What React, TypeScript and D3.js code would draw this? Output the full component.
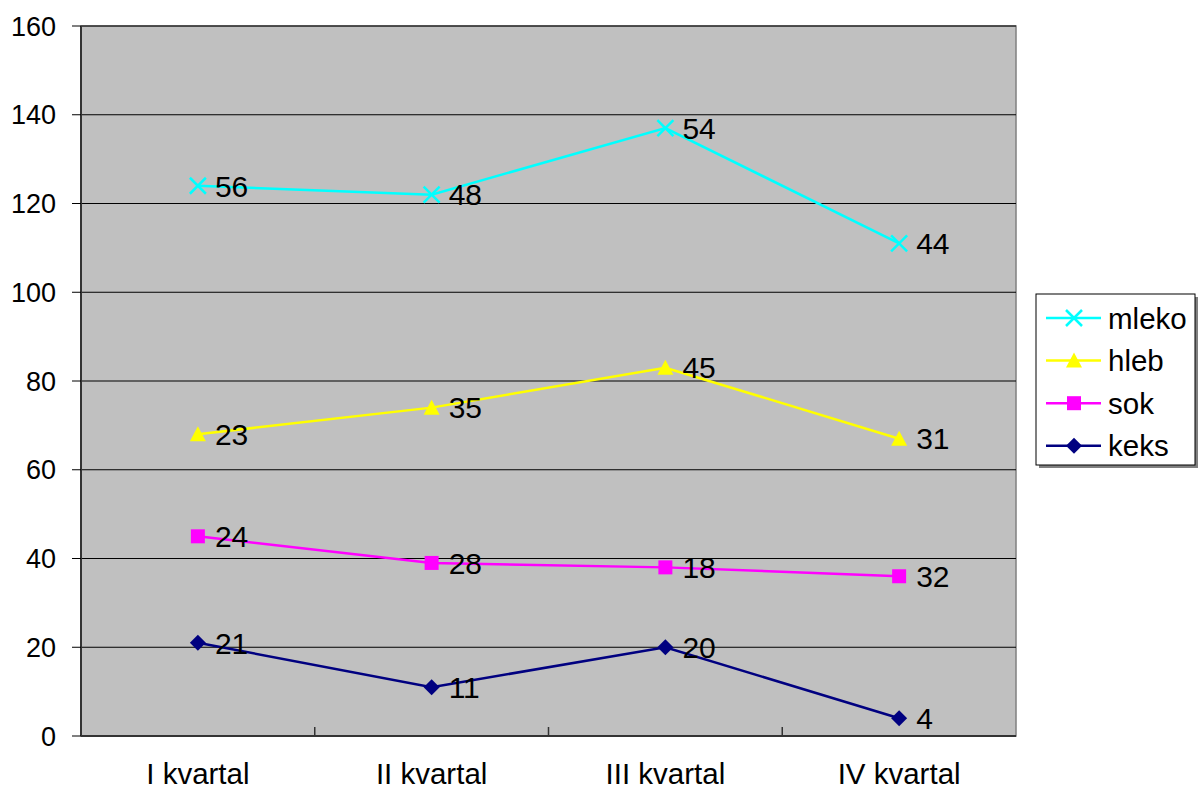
import React from 'react';
import * as d3 from 'd3';

const categories = ['I kvartal', 'II kvartal', 'III kvartal', 'IV kvartal'];
const seriesNames = ['keks', 'sok', 'hleb', 'mleko'];
const keks = [21, 11, 20, 4];
const sok = [24, 28, 18, 32];
const hleb = [23, 35, 45, 31];
const mleko = [56, 48, 54, 44];
const yTicks = [0, 20, 40, 60, 80, 100, 120, 140, 160];
const colors: Record<string, string> = { keks: '#000080', sok: '#ff00ff', hleb: '#ffff00', mleko: '#00ffff' };

const W = 1198;
const H = 792;
const plot = { left: 81, right: 1016, top: 26, bottom: 736 };
const FONT = 'Liberation Sans, Arial, sans-serif';

function Marker({ name, x, y }: { name: string; x: number; y: number }) {
    const c = colors[name];
    if (name === 'mleko') {
        return (
            <g stroke={c} strokeWidth={2.5}>
                <line x1={x - 8} y1={y - 8} x2={x + 8} y2={y + 8} />
                <line x1={x - 8} y1={y + 8} x2={x + 8} y2={y - 8} />
            </g>
        );
    }
    if (name === 'hleb') {
        return <path d={`M${x},${y - 8}L${x + 8},${y + 7}L${x - 8},${y + 7}Z`} fill={c} />;
    }
    if (name === 'sok') {
        return <rect x={x - 7} y={y - 7} width={14} height={14} fill={c} />;
    }
    return <path d={`M${x},${y - 8}L${x + 8},${y}L${x},${y + 8}L${x - 8},${y}Z`} fill={c} />;
}

export default function App() {
    const raw: Record<string, number[]> = { keks, sok, hleb, mleko };
    const cumulative: Record<string, number[]> = {};
    const running = [0, 0, 0, 0];
    seriesNames.forEach(n => {
        cumulative[n] = raw[n].map((v, i) => (running[i] += v));
    });

    const x = d3.scaleBand<string>().domain(categories).range([plot.left, plot.right]);
    const y = d3.scaleLinear().domain([0, 160]).range([plot.bottom, plot.top]);
    const cx = (c: string) => (x(c) as number) + x.bandwidth() / 2;
    const line = d3.line<number>().x((_, i) => cx(categories[i])).y(d => y(d));

    const legendOrder = ['mleko', 'hleb', 'sok', 'keks'];

    return (
        <svg width={W} height={H} style={{ position: 'absolute', left: 0, top: 0 }} fontFamily={FONT}>
            <rect width={W} height={H} fill="#fff" />
            <rect x={plot.left} y={plot.top} width={plot.right - plot.left} height={plot.bottom - plot.top}
                fill="#c0c0c0" stroke="#808080" strokeWidth={1.5} />
            {yTicks.filter(t => t > 0).map(t => (
                <line key={t} x1={plot.left} x2={plot.right} y1={y(t)} y2={y(t)} stroke="#000" strokeWidth={1} />
            ))}
            {/* axes */}
            <line x1={plot.left} x2={plot.left} y1={plot.top} y2={plot.bottom} stroke="#333" strokeWidth={2} />
            <line x1={plot.left} x2={plot.right} y1={plot.bottom} y2={plot.bottom} stroke="#333" strokeWidth={2} />
            {yTicks.map(t => (
                <g key={t}>
                    <line x1={plot.left - 9} x2={plot.left} y1={y(t)} y2={y(t)} stroke="#000" strokeWidth={1} />
                    <text x={56} y={y(t)} dy="0.36em" textAnchor="end" fontSize={27}>{t}</text>
                </g>
            ))}
            {categories.slice(1).map(c => (
                <line key={c} x1={x(c)} x2={x(c)} y1={plot.bottom - 9} y2={plot.bottom} stroke="#333" strokeWidth={1.5} />
            ))}
            {categories.map(c => (
                <text key={c} x={cx(c)} y={784} textAnchor="middle" fontSize={29.5}>{c}</text>
            ))}
            {seriesNames.map(n => (
                <g key={n}>
                    <path d={line(cumulative[n]) as string} fill="none" stroke={colors[n]} strokeWidth={2.5} />
                    {cumulative[n].map((v, i) => (
                        <Marker key={i} name={n} x={cx(categories[i])} y={y(v)} />
                    ))}
                    {cumulative[n].map((v, i) => (
                        <text key={'t' + i} x={cx(categories[i]) + 17} y={y(v)} dy="0.36em" fontSize={30}>{raw[n][i]}</text>
                    ))}
                </g>
            ))}
            {/* legend */}
            <rect x={1039} y={297} width={159} height={171} fill="#808080" />
            <rect x={1036} y={294} width={159} height={171} fill="#fff" stroke="#000" strokeWidth={1} />
            {legendOrder.map((n, i) => {
                const ly = 318 + i * 42.6;
                return (
                    <g key={n}>
                        <line x1={1046} x2={1101} y1={ly} y2={ly} stroke={colors[n]} strokeWidth={2.5} />
                        <Marker name={n} x={1074} y={ly} />
                        <text x={1108} y={ly} dy="0.36em" fontSize={29.5}>{n}</text>
                    </g>
                );
            })}
        </svg>
    );
}
